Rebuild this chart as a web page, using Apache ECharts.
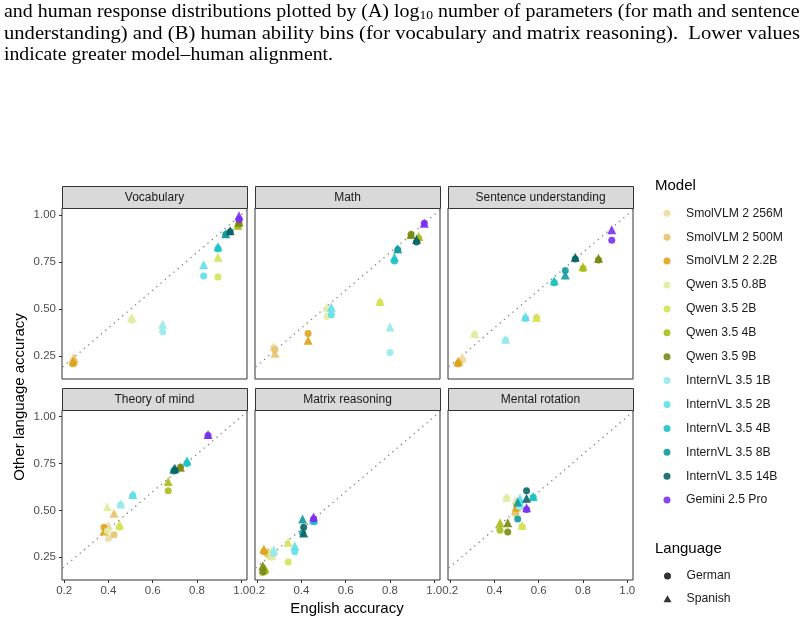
<!DOCTYPE html>
<html>
<head>
<meta charset="utf-8">
<script src="https://cdn.jsdelivr.net/npm/echarts@6/dist/echarts.min.js"></script>
<style>
  html, body { margin: 0; padding: 0; background: #fff; }
  #chart { width: 804px; height: 624px; }
</style>
</head>
<body>
<div id="chart"></div>
<script>
(function () {
  'use strict';

  const models = [
    'SmolVLM 2 256M', 'SmolVLM 2 500M', 'SmolVLM 2 2.2B',
    'Qwen 3.5 0.8B', 'Qwen 3.5 2B', 'Qwen 3.5 4B', 'Qwen 3.5 9B',
    'InternVL 3.5 1B', 'InternVL 3.5 2B', 'InternVL 3.5 4B', 'InternVL 3.5 8B', 'InternVL 3.5 14B',
    'Gemini 2.5 Pro'
  ];
  const modelColors = [
    '#ecdba6', '#e5c46c', '#dea31a',
    '#e2eca0', '#d5e257', '#abbd18', '#788a10',
    '#96e9ea', '#5ddfe5', '#1bc2c7', '#0f9b9c', '#0b6565',
    '#7a30f2'
  ];
  const languages = ['German', 'Spanish'];
  const tasks = ['Vocabulary', 'Math', 'Sentence understanding', 'Theory of mind', 'Matrix reasoning', 'Mental rotation'];
  const xTicks = [0.2, 0.4, 0.6, 0.8, 1.0];
  const yTicks = [0.25, 0.5, 0.75, 1.0];

  // accuracy per model, same order as `models`
  const vocabularyEn = [0.24, 0.245, 0.24, 0.505, 0.895, 0.985, 0.99, 0.645, 0.83, 0.895, 0.93, 0.95, 0.99];
  const vocabularyDe = [0.215, 0.225, 0.21, 0.44, 0.67, 0.94, 0.955, 0.38, 0.675, 0.82, 0.895, 0.91, 0.975];
  const vocabularyEs = [0.245, 0.235, 0.225, 0.455, 0.775, 0.945, 0.96, 0.42, 0.735, 0.83, 0.90, 0.915, 0.995];

  const mathEn = [0.275, 0.28, 0.43, 0.515, 0.755, 0.93, 0.895, 0.80, 0.535, 0.82, 0.835, 0.92, 0.955];
  const mathDe = [0.295, 0.285, 0.37, 0.46, 0.535, 0.875, 0.895, 0.27, 0.47, 0.755, 0.815, 0.855, 0.955];
  const mathEs = [0.30, 0.265, 0.335, 0.51, 0.54, 0.885, 0.895, 0.405, 0.51, 0.775, 0.82, 0.87, 0.955];

  const sentenceEn = [0.255, 0.24, 0.235, 0.31, 0.59, 0.80, 0.87, 0.45, 0.54, 0.67, 0.72, 0.765, 0.93];
  const sentenceDe = [0.23, 0.215, 0.21, 0.365, 0.455, 0.715, 0.76, 0.335, 0.45, 0.64, 0.705, 0.765, 0.865];
  const sentenceEs = [0.245, 0.225, 0.22, 0.37, 0.455, 0.725, 0.77, 0.34, 0.46, 0.65, 0.68, 0.775, 0.92];

  const theoryEn = [0.40, 0.425, 0.38, 0.395, 0.45, 0.67, 0.725, 0.455, 0.51, 0.755, 0.695, 0.70, 0.85];
  const theoryDe = [0.35, 0.37, 0.41, 0.39, 0.41, 0.605, 0.73, 0.53, 0.58, 0.75, 0.71, 0.715, 0.90];
  const theoryEs = [0.42, 0.485, 0.39, 0.52, 0.425, 0.655, 0.73, 0.535, 0.585, 0.765, 0.72, 0.725, 0.905];

  const matrixEn = [0.265, 0.25, 0.23, 0.265, 0.34, 0.235, 0.225, 0.275, 0.37, 0.455, 0.405, 0.41, 0.455];
  const matrixDe = [0.25, 0.265, 0.28, 0.255, 0.225, 0.175, 0.17, 0.27, 0.28, 0.44, 0.38, 0.41, 0.455];
  const matrixEs = [0.26, 0.28, 0.295, 0.285, 0.33, 0.19, 0.205, 0.29, 0.31, 0.45, 0.455, 0.38, 0.465];

  const rotationEn = [0.495, 0.495, 0.50, 0.455, 0.525, 0.425, 0.46, 0.515, 0.515, 0.575, 0.505, 0.545, 0.545];
  const rotationDe = [0.48, 0.49, 0.51, 0.565, 0.415, 0.395, 0.385, 0.52, 0.54, 0.57, 0.455, 0.605, 0.505];
  const rotationEs = [0.55, 0.50, 0.52, 0.57, 0.42, 0.435, 0.435, 0.53, 0.565, 0.575, 0.545, 0.565, 0.515];

  const taskData = [
    [vocabularyEn, vocabularyDe, vocabularyEs],
    [mathEn, mathDe, mathEs],
    [sentenceEn, sentenceDe, sentenceEs],
    [theoryEn, theoryDe, theoryEs],
    [matrixEn, matrixDe, matrixEs],
    [rotationEn, rotationDe, rotationEs]
  ];

  const captionLines = [
    'and human response distributions plotted by (A) log{sub|10} number of parameters (for math and sentence',
    'understanding) and (B) human ability bins (for vocabulary and matrix reasoning).  Lower values',
    'indicate greater model\u2013human alignment.'
  ];

  const font = '"Liberation Sans", Arial, sans-serif';
  const serif = '"Liberation Serif", "Times New Roman", serif';
  const colLeft = [62, 255, 448];
  const rowTop = [208, 410];
  const rowHeight = [171, 170];
  const panelWidth = 185;
  const stripHeight = 22;

  const chart = echarts.init(document.getElementById('chart'), null, { renderer: 'canvas' });

  const grids = [], xAxes = [], yAxes = [], series = [], graphics = [];

  tasks.forEach((task, i) => {
    const r = Math.floor(i / 3), c = i % 3;
    grids.push({
      left: colLeft[c], top: rowTop[r], width: panelWidth, height: rowHeight[r],
      show: true, borderColor: '#333', borderWidth: 1, backgroundColor: '#fff'
    });
    xAxes.push({
      type: 'value', gridIndex: i, min: 0.19, max: 1.026,
      splitLine: { show: false }, axisLine: { show: false },
      axisTick: { show: r === 1, length: 3, lineStyle: { color: '#333' }, customValues: xTicks },
      axisLabel: {
        show: r === 1, customValues: xTicks, margin: 5, color: '#4d4d4d', fontSize: 11.5, fontFamily: font,
        formatter: (v) => v.toFixed(1)
      }
    });
    yAxes.push({
      type: 'value', gridIndex: i, min: 0.129, max: 1.036,
      splitLine: { show: false }, axisLine: { show: false },
      axisTick: { show: c === 0, length: 3, lineStyle: { color: '#333' }, customValues: yTicks },
      axisLabel: {
        show: c === 0, customValues: yTicks, margin: 6, color: '#4d4d4d', fontSize: 11.5, fontFamily: font,
        formatter: (v) => v.toFixed(2)
      }
    });
    // strip
    graphics.push({
      type: 'rect', silent: true,
      shape: { x: colLeft[c] + 0.5, y: rowTop[r] - stripHeight + 0.5, width: panelWidth, height: stripHeight },
      style: { fill: '#d9d9d9', stroke: '#333', lineWidth: 1 }
    });
    graphics.push({
      type: 'text', silent: true,
      x: colLeft[c] + panelWidth / 2, y: rowTop[r] - stripHeight / 2 + 0.5,
      style: { text: task, font: '12px ' + font, fill: '#1a1a1a', textAlign: 'center', textVerticalAlign: 'middle' }
    });
    // identity line
    series.push({
      type: 'line', xAxisIndex: i, yAxisIndex: i, silent: true, clip: true,
      data: [[0, 0], [1.1, 1.1]], showSymbol: false, z: 1,
      lineStyle: { color: '#7f7f7f', width: 1.3, type: [1.3, 4.3] }
    });
    const [en, de, es] = taskData[i];
    models.forEach((m, k) => {
      series.push({
        type: 'scatter', name: m, xAxisIndex: i, yAxisIndex: i, z: 2,
        itemStyle: { color: modelColors[k], opacity: 0.9 },
        emphasis: { disabled: true },
        data: [
          { value: [en[k], de[k]], symbol: 'circle', symbolSize: 7 },
          { value: [en[k], es[k]], symbol: 'triangle', symbolSize: 9 }
        ]
      });
    });
  });

  languages.forEach((l, k) => {
    series.push({
      type: 'scatter', name: l, xAxisIndex: 0, yAxisIndex: 0, data: [],
      symbol: k === 0 ? 'circle' : 'triangle', itemStyle: { color: '#000' }
    });
  });

  // caption: first two lines justified to the page width
  const captionSize = 19;
  const ctx = document.createElement('canvas').getContext('2d');
  ctx.font = captionSize + 'px ' + serif;
  const captionY = [12, 34, 55];
  const captionWidth = [796, 796, 329];
  captionLines.forEach((line, i) => {
    const plain = line.replace('{sub|10}', '');
    let w = ctx.measureText(plain).width;
    if (line.includes('{sub|')) w += ctx.measureText('10').width * 0.7;
    graphics.push({
      type: 'text', silent: true, x: 4, y: captionY[i], scaleX: captionWidth[i] / w,
      style: {
        text: line, font: captionSize + 'px ' + serif, fill: '#000', textVerticalAlign: 'middle',
        rich: { sub: { fontSize: 13, fontFamily: serif, padding: [8, 0, 0, 0] } }
      }
    });
  });

  graphics.push(
    { type: 'text', silent: true, x: 20, y: 397, rotation: Math.PI / 2,
      style: { text: 'Other language accuracy', font: '15px ' + font, fill: '#000', textAlign: 'center', textVerticalAlign: 'middle' } },
    { type: 'text', silent: true, x: 347, y: 609,
      style: { text: 'English accuracy', font: '15px ' + font, fill: '#000', textAlign: 'center', textVerticalAlign: 'middle' } },
    { type: 'text', silent: true, x: 655, y: 186,
      style: { text: 'Model', font: '15px ' + font, fill: '#000', textVerticalAlign: 'middle' } },
    { type: 'text', silent: true, x: 655, y: 549,
      style: { text: 'Language', font: '15px ' + font, fill: '#000', textVerticalAlign: 'middle' } }
  );

  const legendText = { fontSize: 12.2, color: '#1a1a1a', fontFamily: font, padding: [0, 0, 0, 10] };

  chart.setOption({
    animation: false,
    backgroundColor: '#fff',
    grid: grids,
    xAxis: xAxes,
    yAxis: yAxes,
    legend: [
      {
        data: models.map((m) => ({ name: m, icon: 'circle' })),
        orient: 'vertical', left: 663.5, top: 207.3, itemWidth: 8, itemHeight: 7, itemGap: 11.9,
        selectedMode: false, textStyle: legendText, padding: 0
      },
      {
        data: languages.map((l, k) => ({ name: l, icon: k === 0 ? 'circle' : 'triangle' })),
        orient: 'vertical', left: 663.5, top: 570, itemWidth: 8, itemHeight: 7, itemGap: 10.8,
        selectedMode: false, textStyle: legendText, padding: 0
      }
    ],
    graphic: graphics,
    series
  });
})();
</script>
</body>
</html>
